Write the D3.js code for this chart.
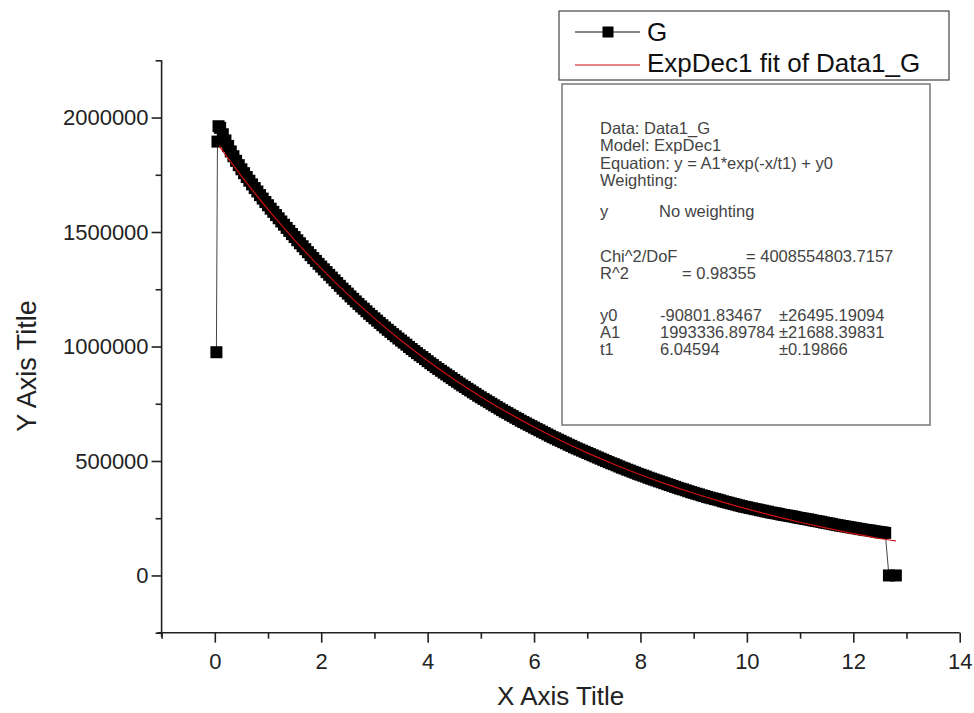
<!DOCTYPE html>
<html>
<head>
<meta charset="utf-8">
<script src="https://cdn.jsdelivr.net/npm/d3@7"></script>
<style>
  body { margin: 0; background: #fff; }
  svg { display: block; }
  text { font-family: "Liberation Sans", Arial, sans-serif; }
</style>
</head>
<body>
<div id="chart"></div>
<script>
// G data (dense trace)
const xVals = [0.03, 0.05, 0.07,
    0.1, 0.15, 0.2, 0.25, 0.3, 0.35, 0.4, 0.45, 0.5, 0.55, 0.6, 0.65, 0.7, 0.75, 0.8, 0.85, 0.9, 0.95, 1.0,
    1.05, 1.1, 1.15, 1.2, 1.25, 1.3, 1.35, 1.4, 1.45, 1.5, 1.55, 1.6, 1.65, 1.7, 1.75, 1.8, 1.85, 1.9, 1.95, 2.0,
    2.05, 2.1, 2.15, 2.2, 2.25, 2.3, 2.35, 2.4, 2.45, 2.5, 2.55, 2.6, 2.65, 2.7, 2.75, 2.8, 2.85, 2.9, 2.95, 3.0,
    3.05, 3.1, 3.15, 3.2, 3.25, 3.3, 3.35, 3.4, 3.45, 3.5, 3.55, 3.6, 3.65, 3.7, 3.75, 3.8, 3.85, 3.9, 3.95, 4.0,
    4.05, 4.1, 4.15, 4.2, 4.25, 4.3, 4.35, 4.4, 4.45, 4.5, 4.55, 4.6, 4.65, 4.7, 4.75, 4.8, 4.85, 4.9, 4.95, 5.0,
    5.05, 5.1, 5.15, 5.2, 5.25, 5.3, 5.35, 5.4, 5.45, 5.5, 5.55, 5.6, 5.65, 5.7, 5.75, 5.8, 5.85, 5.9, 5.95, 6.0,
    6.05, 6.1, 6.15, 6.2, 6.25, 6.3, 6.35, 6.4, 6.45, 6.5, 6.55, 6.6, 6.65, 6.7, 6.75, 6.8, 6.85, 6.9, 6.95, 7.0,
    7.05, 7.1, 7.15, 7.2, 7.25, 7.3, 7.35, 7.4, 7.45, 7.5, 7.55, 7.6, 7.65, 7.7, 7.75, 7.8, 7.85, 7.9, 7.95, 8.0,
    8.05, 8.1, 8.15, 8.2, 8.25, 8.3, 8.35, 8.4, 8.45, 8.5, 8.55, 8.6, 8.65, 8.7, 8.75, 8.8, 8.85, 8.9, 8.95, 9.0,
    9.05, 9.1, 9.15, 9.2, 9.25, 9.3, 9.35, 9.4, 9.45, 9.5, 9.55, 9.6, 9.65, 9.7, 9.75, 9.8, 9.85, 9.9, 9.95, 10.0,
    10.05, 10.1, 10.15, 10.2, 10.25, 10.3, 10.35, 10.4, 10.45, 10.5, 10.55, 10.6, 10.65, 10.7, 10.75, 10.8, 10.85, 10.9, 10.95, 11.0,
    11.05, 11.1, 11.15, 11.2, 11.25, 11.3, 11.35, 11.4, 11.45, 11.5, 11.55, 11.6, 11.65, 11.7, 11.75, 11.8, 11.85, 11.9, 11.95, 12.0,
    12.05, 12.1, 12.15, 12.2, 12.25, 12.3, 12.35, 12.4, 12.45, 12.5, 12.55, 12.6,
    12.67, 12.8];
const yVals = [975000, 1895000, 1962000,
    1955000, 1927000, 1900000, 1876000, 1852000, 1831000, 1811000, 1792000, 1774000, 1757000, 1740000, 1724000, 1708000, 1692000, 1677000, 1661000, 1646000, 1631000, 1617000,
    1602000, 1588000, 1574000, 1560000, 1546000, 1532000, 1518000, 1505000, 1491000, 1478000, 1464000, 1451000, 1438000, 1425000, 1412000, 1399000, 1386000, 1374000, 1361000, 1349000,
    1337000, 1325000, 1313000, 1301000, 1289000, 1277000, 1265000, 1253000, 1242000, 1231000, 1219000, 1208000, 1197000, 1186000, 1175000, 1165000, 1154000, 1143000, 1133000, 1123000,
    1113000, 1103000, 1093000, 1083000, 1073000, 1064000, 1054000, 1045000, 1035000, 1026000, 1017000, 1008000, 998000, 989000, 980000, 971000, 962000, 954000, 945000, 936000,
    927000, 919000, 910000, 902000, 894000, 886000, 878000, 870000, 862000, 854000, 846000, 838000, 830000, 823000, 815000, 808000, 800000, 793000, 785000, 778000,
    771000, 764000, 757000, 750000, 743000, 736000, 729000, 722000, 715000, 709000, 702000, 696000, 689000, 683000, 676000, 670000, 664000, 658000, 652000, 646000,
    640000, 634000, 628000, 622000, 616000, 610000, 604000, 599000, 593000, 588000, 582000, 577000, 571000, 566000, 560000, 555000, 550000, 545000, 540000, 535000,
    530000, 525000, 520000, 515000, 510000, 505000, 500000, 495000, 490000, 486000, 481000, 476000, 471000, 467000, 462000, 458000, 453000, 449000, 444000, 440000,
    436000, 432000, 427000, 423000, 419000, 415000, 411000, 407000, 403000, 399000, 395000, 391000, 387000, 383000, 379000, 376000, 372000, 368000, 364000, 361000,
    357000, 354000, 350000, 347000, 343000, 340000, 337000, 334000, 331000, 328000, 324000, 321000, 318000, 315000, 312000, 309000, 306000, 303000, 300000, 298000,
    295000, 293000, 290000, 288000, 285000, 283000, 280000, 278000, 275000, 273000, 271000, 269000, 266000, 264000, 262000, 260000, 258000, 256000, 253000, 251000,
    249000, 247000, 245000, 243000, 240000, 238000, 236000, 234000, 231000, 229000, 227000, 225000, 222000, 220000, 218000, 216000, 214000, 212000, 210000, 208000,
    206000, 204000, 202000, 200000, 198000, 197000, 195000, 193000, 191000, 189000, 188000, 186000,
    0, 0];

// ExpDec1 fit curve, sampled
const fitX = [0.08, 0.5, 1, 1.5, 2, 2.5, 3, 3.5, 4, 4.5, 5, 5.5, 6, 6.5,
    7, 7.5, 8, 8.5, 9, 9.5, 10, 10.5, 11, 11.5, 12, 12.5, 12.8];
const fitY = [1876000, 1744300, 1598700, 1464600, 1341100, 1227500, 1122800, 1026500,
    937800, 856200, 781000, 711800, 648100, 589400, 535400, 485700, 440000, 397900,
    359100, 323400, 290500, 260200, 232400, 206700, 183100, 161400, 151100];

const xMajorTicks = [0, 2, 4, 6, 8, 10, 12, 14];
const xMinorTicks = [-1, 1, 3, 5, 7, 9, 11, 13];
const yMajorTicks = [0, 500000, 1000000, 1500000, 2000000];
const yMinorTicks = [-250000, 250000, 750000, 1250000, 1750000, 2250000];

const legendLabels = ['G', 'ExpDec1 fit of Data1_G'];
const statsLines = [
    ['Data: Data1_G'],
    ['Model: ExpDec1'],
    ['Equation: y = A1*exp(-x/t1) + y0'],
    ['Weighting:'],
    ['y', 'No weighting'],
    ['Chi^2/DoF', '= 4008554803.7157'],
    ['R^2', '=  0.98355'],
    ['y0', '-90801.83467', '\u00b126495.19094'],
    ['A1', '1993336.89784', '\u00b121688.39831'],
    ['t1', '6.04594', '\u00b10.19866']
];

const width = 974;
const height = 713;

const svg = d3.select('#chart')
    .append('svg')
    .attr('width', width)
    .attr('height', height);

const x = d3.scaleLinear().domain([-1, 14]).range([161.6, 959.7]);
const y = d3.scaleLinear().domain([-250000, 2250000]).range([632.7, 60.3]);

// axes: minor ticks first, then major ticks with labels
const axisColor = '#222';

svg.append('g')
    .attr('transform', `translate(0,${y(-250000)})`)
    .call(d3.axisBottom(x).tickValues(xMinorTicks).tickSize(6).tickSizeOuter(0).tickFormat(''))
    .call(g => g.select('.domain').remove());

svg.append('g')
    .attr('class', 'x axis')
    .attr('transform', `translate(0,${y(-250000)})`)
    .call(d3.axisBottom(x).tickValues(xMajorTicks).tickSize(10).tickSizeOuter(0).tickPadding(11))
    .call(g => g.select('.domain').attr('d', `M${x(-1) - 4},0H${x(14)}`));

svg.append('g')
    .attr('transform', `translate(${x(-1)},0)`)
    .call(d3.axisLeft(y).tickValues(yMinorTicks).tickSize(6).tickSizeOuter(0).tickFormat(''))
    .call(g => g.select('.domain').remove());

svg.append('g')
    .attr('class', 'y axis')
    .attr('transform', `translate(${x(-1)},0)`)
    .call(d3.axisLeft(y).tickValues(yMajorTicks).tickSize(10).tickSizeOuter(0).tickPadding(3).tickFormat(d3.format('d')))
    .call(g => g.select('.domain').attr('d', `M0,${y(2250000)}V${y(-250000) + 4}`));

svg.selectAll('.tick line, .domain')
    .attr('stroke', axisColor)
    .attr('stroke-width', 1.6);

svg.selectAll('.axis text')
    .attr('fill', '#222')
    .style('font-size', '22px');

svg.append('text')
    .attr('x', (x(-1) + x(14)) / 2)
    .attr('y', 705)
    .attr('text-anchor', 'middle')
    .style('font-size', '26px')
    .attr('fill', '#222')
    .text('X Axis Title');

svg.append('text')
    .attr('transform', 'translate(36,366) rotate(-90)')
    .attr('text-anchor', 'middle')
    .style('font-size', '27px')
    .attr('fill', '#222')
    .text('Y Axis Title');

// G: thin line plus square markers
const points = xVals.map((d, i) => [d, yVals[i]]);
const markerSize = 12;

svg.append('path')
    .datum(points)
    .attr('fill', 'none')
    .attr('stroke', '#444')
    .attr('stroke-width', 1)
    .attr('d', d3.line().x(d => x(d[0])).y(d => y(d[1])));

svg.selectAll('.marker')
    .data(points)
    .enter().append('rect')
    .attr('class', 'marker')
    .attr('x', d => x(d[0]) - markerSize / 2)
    .attr('y', d => y(d[1]) - markerSize / 2)
    .attr('width', markerSize)
    .attr('height', markerSize)
    .attr('fill', '#000');

// fit curve on top
svg.append('path')
    .datum(fitX.map((d, i) => [d, fitY[i]]))
    .attr('fill', 'none')
    .attr('stroke', '#cc1111')
    .attr('stroke-width', 1.2)
    .attr('d', d3.line().curve(d3.curveMonotoneX).x(d => x(d[0])).y(d => y(d[1])));

// legend
const legend = svg.append('g');
legend.append('rect')
    .attr('x', 559).attr('y', 11)
    .attr('width', 390).attr('height', 69)
    .attr('fill', '#fff')
    .attr('stroke', '#444')
    .attr('stroke-width', 1.2);

legend.append('line')
    .attr('x1', 575).attr('x2', 640)
    .attr('y1', 32).attr('y2', 32)
    .attr('stroke', '#111').attr('stroke-width', 1.2);
legend.append('rect')
    .attr('x', 608 - 5.5).attr('y', 32 - 5.5)
    .attr('width', 11).attr('height', 11)
    .attr('fill', '#000');
legend.append('line')
    .attr('x1', 575).attr('x2', 640)
    .attr('y1', 65).attr('y2', 65)
    .attr('stroke', '#cc1111').attr('stroke-width', 1.2);

legend.selectAll('.legend-label')
    .data(legendLabels)
    .enter().append('text')
    .attr('class', 'legend-label')
    .attr('x', 647)
    .attr('y', (d, i) => 41 + i * 31)
    .style('font-size', '26px')
    .attr('fill', '#111')
    .text(d => d);

// fit parameters box
const stats = svg.append('g');
stats.append('rect')
    .attr('x', 562).attr('y', 84)
    .attr('width', 368).attr('height', 341)
    .attr('fill', 'none')
    .attr('stroke', '#777')
    .attr('stroke-width', 1.5);

const lineY = [128, 145, 163, 180, 211, 256, 273, 315, 332, 349];
const colX = {
    'y': [600, 659],
    'Chi^2/DoF': [600, 746],
    'R^2': [600, 682]
};

statsLines.forEach((row, i) => {
    const cols = colX[row[0]] || [600, 660, 779];
    row.forEach((t, j) => {
        stats.append('text')
            .attr('x', cols[j])
            .attr('y', lineY[i] + 6)
            .style('font-size', '16.5px')
            .attr('fill', '#444')
            .text(t);
    });
});
</script>
</body>
</html>
